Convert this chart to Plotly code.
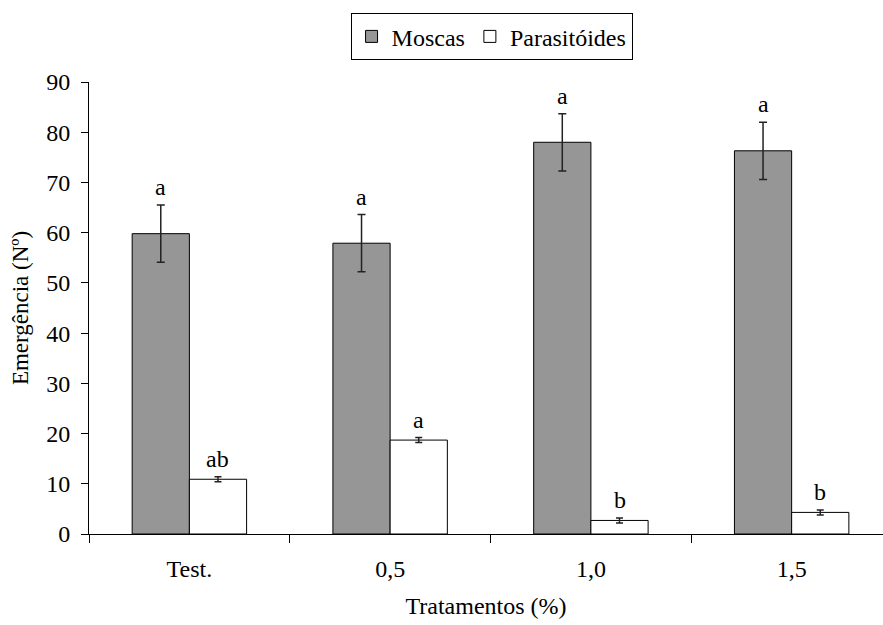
import plotly.graph_objects as go

# Treatments (concentration, %)
tratamentos = ["Test.", "0,5", "1,0", "1,5"]

# Mean emergence and standard errors
moscas = [59.8, 57.9, 78.0, 76.3]
moscas_err = [5.7, 5.7, 5.7, 5.7]
parasitoides = [10.9, 18.7, 2.7, 4.3]
parasitoides_err = [0.5, 0.5, 0.5, 0.5]

# Significance letters
moscas_letras = ["a", "a", "a", "a"]
parasitoides_letras = ["ab", "a", "b", "b"]

FONT = "Liberation Serif"
BAR_W = 0.285

fig = go.Figure()
fig.add_trace(go.Bar(
    name="Moscas", x=tratamentos, y=moscas,
    width=BAR_W, offset=-BAR_W,
    marker=dict(color="#969696", line=dict(color="black", width=1)),
    error_y=dict(type="data", array=moscas_err, color="#222222",
                 thickness=1.5, width=4),
))
fig.add_trace(go.Bar(
    name="Parasitóides", x=tratamentos, y=parasitoides,
    width=BAR_W, offset=0,
    marker=dict(color="white", line=dict(color="black", width=1)),
    error_y=dict(type="data", array=parasitoides_err, color="#222222",
                 thickness=1.5, width=3.5),
))

annotations = []
for i, (v, e, t) in enumerate(zip(moscas, moscas_err, moscas_letras)):
    annotations.append(dict(x=i - BAR_W / 2, y=v + e, text=t, showarrow=False,
                            yanchor="bottom", yshift=3,
                            font=dict(family=FONT, size=24, color="black")))
for i, (v, e, t) in enumerate(zip(parasitoides, parasitoides_err, parasitoides_letras)):
    annotations.append(dict(x=i + BAR_W / 2, y=v + e, text=t, showarrow=False,
                            yanchor="bottom", yshift=3,
                            font=dict(family=FONT, size=24, color="black")))

fig.update_layout(
    width=883, height=625,
    margin=dict(l=89, r=0, t=82, b=91),
    paper_bgcolor="white", plot_bgcolor="white",
    font=dict(family=FONT, size=24, color="black"),
    barmode="group",
    showlegend=True,
    legend=dict(orientation="h", x=0.507, xanchor="center", y=1.152, yanchor="top",
                bordercolor="black", borderwidth=1, bgcolor="white",
                font=dict(family=FONT, size=24, color="black"),
                itemwidth=30, tracegroupgap=0),
    annotations=annotations,
    xaxis=dict(
        type="category", range=[-0.5, 3.455],
        showline=True, linecolor="black", linewidth=1,
        ticks="outside", tickson="boundaries", ticklen=8, tickcolor="black",
        ticklabelstandoff=13,
        showgrid=False, zeroline=False,
        title=dict(text="Tratamentos (%)", standoff=16,
                   font=dict(family=FONT, size=24)),
        tickfont=dict(family=FONT, size=24),
    ),
    yaxis=dict(
        range=[0, 90], dtick=10,
        showline=True, linecolor="black", linewidth=1,
        ticks="outside", ticklen=7, tickcolor="black",
        ticklabelstandoff=6,
        showgrid=False, zeroline=False,
        title=dict(text="Emergência (Nº)", standoff=11,
                   font=dict(family=FONT, size=23)),
        tickfont=dict(family=FONT, size=24),
    ),
)

fig.write_html("out.html")
